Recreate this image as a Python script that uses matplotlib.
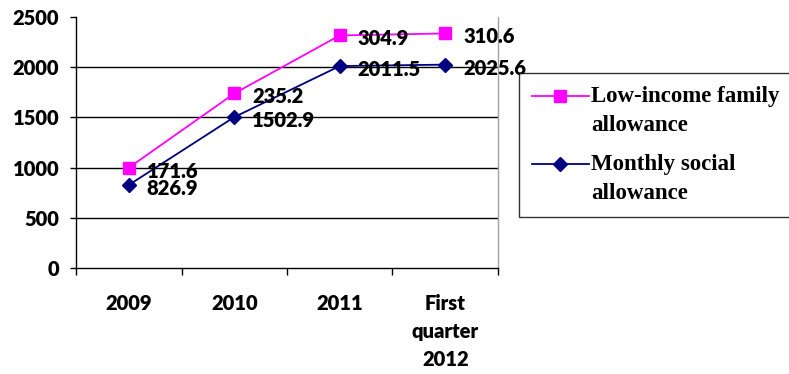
import matplotlib
matplotlib.use("Agg")
import matplotlib.pyplot as plt
from matplotlib.legend_handler import HandlerLine2D
import numpy as np

categories = ["2009", "2010", "2011", "First\nquarter\n2012"]
monthly_social = [826.9, 1502.9, 2011.5, 2025.6]
low_income = [171.6, 235.2, 304.9, 310.6]
yticks = [0, 500, 1000, 1500, 2000, 2500]

W, H = 789, 374
fig = plt.figure(figsize=(W / 100, H / 100), dpi=100)
ax = fig.add_axes([76 / W, 1 - 268 / H, (498 - 76) / W, (268 - 17) / H])

x = np.arange(len(categories))
stacked_top = np.array(monthly_social) + np.array(low_income)

tick_font = dict(family="Lato", weight="heavy", size=14.5)

ax.set_ylim(0, 2500)
ax.set_xlim(-0.5, len(categories) - 0.5)
for v in yticks[1:-1]:
    ax.axhline(v, color="black", lw=1.0, zorder=1)

l1, = ax.plot(x, stacked_top, color="#FF00FF", lw=1.3, marker="s", markersize=8.5,
              markerfacecolor="#FF00FF", markeredgecolor="#FF00FF", zorder=3,
              label="Low-income family\nallowance")
l2, = ax.plot(x, monthly_social, color="#000080", lw=1.3, marker="D", markersize=7.5,
              markerfacecolor="#000080", markeredgecolor="#000080", zorder=3,
              label="Monthly social\nallowance")

lab_font = dict(fontfamily="Lato", fontweight="heavy", fontsize=14.5)
for xi, yv, lab in zip(x, stacked_top, low_income):
    ax.annotate(f"{lab:.1f}", (xi, yv), xytext=(13, -2.5), textcoords="offset points",
                ha="left", va="center", annotation_clip=False, zorder=4, **lab_font)
for xi, yv in zip(x, monthly_social):
    ax.annotate(f"{yv:.1f}", (xi, yv), xytext=(13, -2.5), textcoords="offset points",
                ha="left", va="center", annotation_clip=False, zorder=4, **lab_font)

ax.set_yticks(yticks)
ax.set_yticklabels([str(v) for v in yticks], **tick_font)
ax.tick_params(axis="y", direction="out", length=4, width=1, color="black", pad=8)

ax.set_xticks(np.arange(-0.5, len(categories), 1.0))
ax.set_xticklabels([])
ax.set_xticks(x, minor=True)
ax.set_xticklabels(categories, minor=True, **tick_font, linespacing=1.55)
ax.tick_params(axis="x", which="major", direction="out", length=5, width=1, color="black")
ax.tick_params(axis="x", which="minor", length=0, pad=19)

ax.spines["top"].set_visible(False)
ax.spines["right"].set_color("#a0a0a0")
ax.spines["left"].set_color("black")
ax.spines["bottom"].set_color("black")
for s in ax.spines.values():
    s.set_linewidth(1.0)


class HandlerTopLine(HandlerLine2D):
    def __init__(self, shift=0.0, **kw):
        super().__init__(**kw)
        self.shift = shift

    def create_artists(self, legend, orig_handle, xdescent, ydescent, width, height,
                       fontsize, trans):
        return super().create_artists(legend, orig_handle, xdescent,
                                      ydescent - 2 * self.shift, width, height,
                                      fontsize, trans)


leg = fig.legend(handles=[l1, l2], loc="upper left",
                 bbox_to_anchor=(519 / W, 1 - 73 / H), bbox_transform=fig.transFigure,
                 prop=dict(family="Liberation Serif", weight="bold", size=16.5),
                 frameon=True, fancybox=False, edgecolor="black", borderpad=0.55,
                 handlelength=2.5, handletextpad=0.1, labelspacing=0.75, borderaxespad=0,
                 handler_map={l1: HandlerTopLine(shift=11), l2: HandlerTopLine(shift=11)})
leg.get_frame().set_linewidth(1.0)
for t in leg.get_texts():
    t.set_linespacing(1.55)

fig.savefig("out.png", dpi=100)
